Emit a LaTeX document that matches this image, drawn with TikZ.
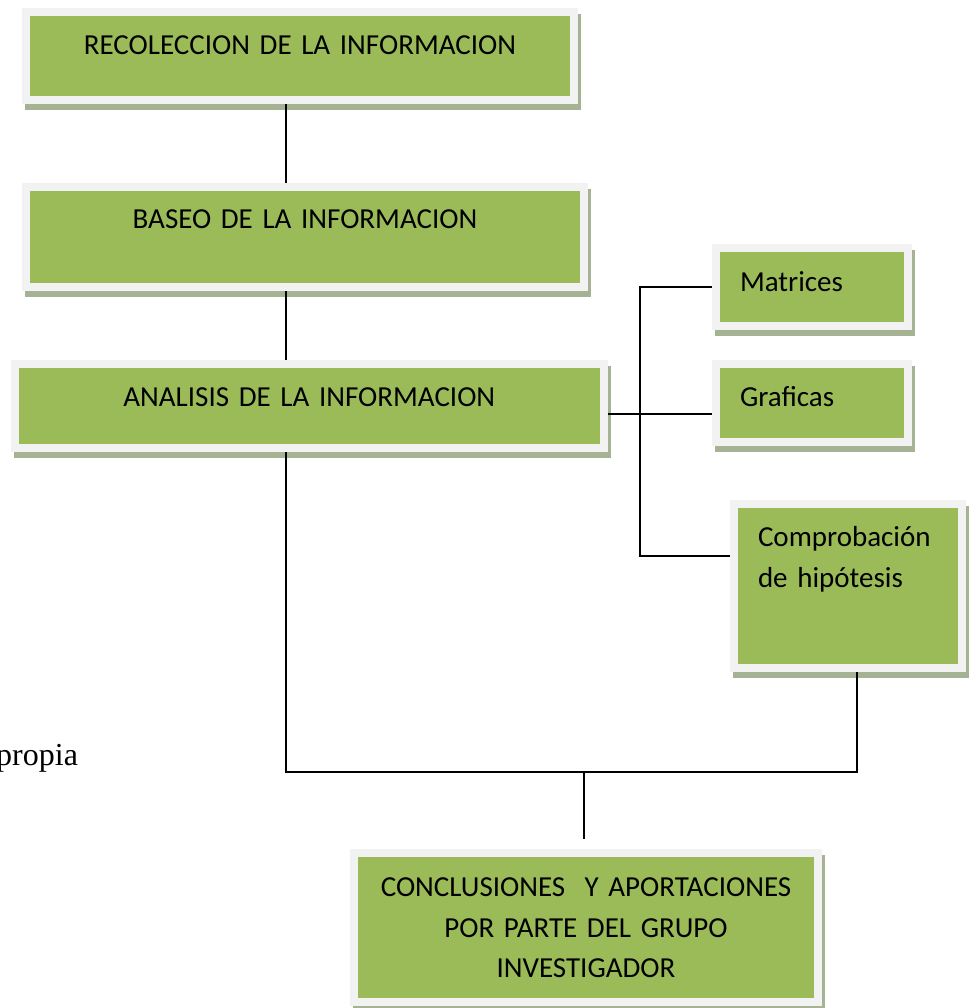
\documentclass[tikz,border=0pt]{standalone}
\usepackage{fontspec}
\setmainfont{Carlito}
\newfontfamily\fuenteserif{Liberation Serif}
\usetikzlibrary{shadows}
\definecolor{verdecaja}{RGB}{155,187,89}
\definecolor{bordecaja}{RGB}{242,242,242}
\definecolor{sombracaja}{RGB}{166,178,148}

\begin{document}
\begin{tikzpicture}[x=1pt, y=-1pt,
		caja/.style={fill=verdecaja, draw=bordecaja, line width=8pt, inner sep=0pt, align=center, font=\fontsize{29}{40.5}\selectfont, general shadow={fill=sombracaja, draw=sombracaja, line width=8pt, shadow xshift=3pt, shadow yshift=-6pt}},
		lateral/.style={caja, inner xsep=24pt, align=left},
		linea/.style={line width=1.6pt, black}]
					\useasboundingbox (0,0) rectangle (975,1008);
					\node[caja, text width=548pt, text height=42.5pt, text depth=45.5pt] (P1) at (300,56) {RECOLECCION DE LA INFORMACION};
					\node[caja, text width=558pt, text height=41.5pt, text depth=58.5pt] (P2) at (305,237) {BASEO DE LA INFORMACION};
					\node[caja, text width=589.4pt, text height=42.5pt, text depth=41.5pt] (P3) at (309.3,406) {ANALISIS DE LA INFORMACION};
					\node[lateral, text width=144pt, text height=43.5pt, text depth=34.5pt] (P4) at (812,287) {Matrices};
					\node[lateral, text width=144pt, text height=42.5pt, text depth=35.5pt] (P5) at (812,403) {Graficas};
					\node[lateral, text width=180pt, text height=42.5pt, text depth=121.5pt] (P6) at (848,586) {Comprobación\\de hipótesis};
					\node[caja, text width=464pt, text height=43.5pt, text depth=105.5pt] (P7) at (586,927.5) {CONCLUSIONES~ Y APORTACIONES\\POR PARTE DEL GRUPO\\INVESTIGADOR};
					\node[anchor=base west, inner sep=0pt, font=\fuenteserif\fontsize{32}{38}\selectfont] (N1) at (-4,765) {propia};
					\coordinate (E) at (286,0);
					\coordinate (R) at (640,0);
					\coordinate (U) at (584,772);
					\draw[linea] (P1.south -| E) -- (P2.north -| E);
					\draw[linea] (P2.south -| E) -- (P3.north -| E);
					\draw[linea] (P3.south -| E) |- (U) -| ([xshift=9pt]P6.south);
					\draw[linea, shorten >=10pt] (U) -- (U |- P7.north);
					\draw[linea] ([yshift=-8pt]P3.east) -- ([yshift=-8pt]P3.east -| P5.west);
					\draw[linea] (P4.west) -| ([yshift=30pt]P6.west -| R) -- ([yshift=30pt]P6.west);
				\end{tikzpicture}
\end{document}
